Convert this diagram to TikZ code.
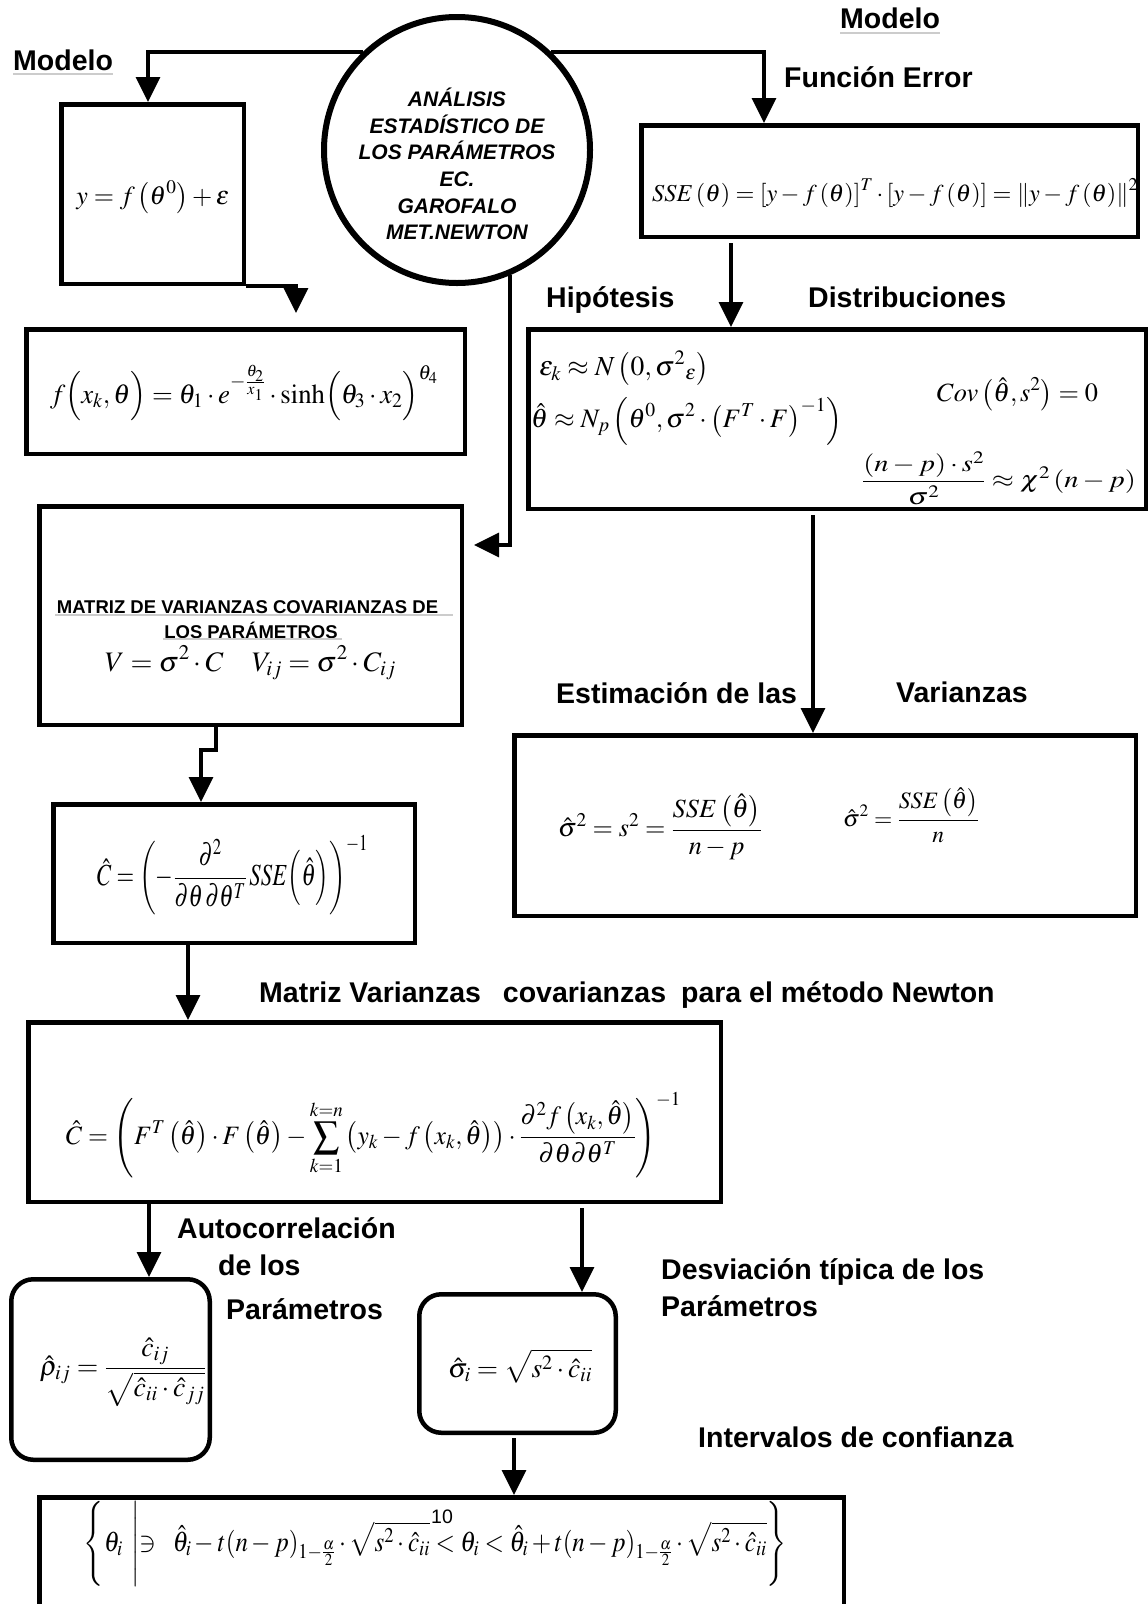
\documentclass[tikz,border=0pt]{standalone}
\usepackage{mathptmx}
\usepackage[no-math]{fontspec}
\setmainfont{Liberation Serif}
\setsansfont{Liberation Sans}
\usepackage{graphicx}
\usetikzlibrary{arrows.meta,calc}
% formula scaled to a given width (px = pt)
\newcommand{\fw}[2]{\resizebox{#1pt}{!}{$\displaystyle #2$}}
% formula scaled to a given width and total height (px = pt)
\newcommand{\fwh}[3]{\resizebox*{#1pt}{#2pt}{$\displaystyle #3$}}
\tikzset{
  box/.style={draw, line width=4.5pt, rectangle, inner sep=0pt},
  rbox/.style={box, rounded corners=22pt},
  circbox/.style={draw, circle, line width=6pt, inner sep=0pt, minimum size=266pt},
  conn/.style={line width=3.5pt, -{Triangle[length=25pt,width=24pt]}},
  lab/.style={font=\sffamily\bfseries\fontsize{28.5}{33}\selectfont, inner sep=0pt, anchor=base west},
  hdr/.style={font=\sffamily\bfseries\fontsize{18.5}{22}\selectfont, inner sep=0pt},
  ulg/.style={draw=gray!40, line width=1.5pt},
  fml/.style={inner sep=0pt, font=\fontsize{24}{28}\selectfont},
}
\begin{document}
\begin{tikzpicture}[x=1pt,y=-1pt]
\fill[white] (0,0) rectangle (1148,1604);
\useasboundingbox (0,0) rectangle (1148,1604);

% helper coordinates (connector x positions / y levels)
\coordinate (xL) at (148,0);
\coordinate (xR) at (764,0);
\coordinate (xF) at (296,0);
\coordinate (yM) at (0,545);
\coordinate (xS) at (731,0);
\coordinate (xH) at (813,0);
\coordinate (xM1) at (216,0);
\coordinate (xM2) at (201,0);
\coordinate (xN) at (188,0);
\coordinate (xA) at (149,0);
\coordinate (xB) at (582,0);
\coordinate (xI) at (514,0);

% central circle
\node[circbox] (ana) at (457,150) {};
\node[font=\sffamily\bfseries\itshape\fontsize{21}{26.6}\selectfont, align=center, inner sep=0pt] (anatxt) at (457,164)
  {ANÁLISIS\\ESTADÍSTICO DE\\LOS PARÁMETROS\\EC.\\GAROFALO\\MET.NEWTON};

% boxes
\node[box, minimum width=182.5pt, minimum height=179.5pt] (box1) at (152.5,194) {};
\node[box, minimum width=496.5pt, minimum height=111.5pt] (sse) at (889.5,181) {};
\node[box, minimum width=438.5pt, minimum height=124.5pt] (fbox) at (245.5,391.5) {};
\node[box, minimum width=617.5pt, minimum height=179.5pt] (hip) at (837,419) {};
\node[box, minimum width=422.5pt, minimum height=218.5pt] (matriz) at (250.5,615.5) {};
\node[box, minimum width=621.5pt, minimum height=180.5pt] (est) at (825,825.5) {};
\node[box, minimum width=361.5pt, minimum height=138.5pt] (chat) at (234,873.5) {};
\node[box, minimum width=692.5pt, minimum height=179.5pt] (newton) at (374.5,1112) {};
\node[rbox, minimum width=198.5pt, minimum height=180.5pt] (rho) at (110.5,1369.5) {};
\node[rbox, minimum width=196.5pt, minimum height=138.5pt] (sig) at (517.5,1363.5) {};
\node[box, minimum width=804.5pt, minimum height=125.5pt] (intv) at (441.5,1560) {};

% labels
\node[lab] (lModL) at (13,70) {Modelo};
\draw[ulg] ($(lModL.base west)+(0,4)$) -- ($(lModL.base east)+(0,4)$);
\node[lab] (lModR) at (840,28) {Modelo};
\draw[ulg] ($(lModR.base west)+(0,5)$) -- ($(lModR.base east)+(0,5)$);
\node[lab] (lFun) at (784,87) {Función Error};
\node[lab] (lHip) at (546,307) {Hipótesis};
\node[lab] (lDis) at (808,307) {Distribuciones};
\node[lab] (lEst) at (556,703) {Estimación de las};
\node[lab] (lVar) at (896,702) {Varianzas};
\node[lab] (lMat) at (259,1002) {Matriz Varianzas\hspace{22pt}covarianzas\hspace{15pt}para el método Newton};
\node[lab] (lAut1) at (177,1238) {Autocorrelación};
\node[lab] (lAut2) at (218,1275) {de los};
\node[lab] (lAut3) at (226,1319) {Parámetros};
\node[lab] (lDes1) at (661,1279) {Desviación típica de los};
\node[lab] (lDes2) at (661,1316) {Parámetros};
\node[lab] (lInt) at (698,1447) {Intervalos de confianza};

% matriz header
\node[hdr] (hd1) at (247.5,607) {MATRIZ DE VARIANZAS COVARIANZAS DE};
\node[hdr] (hd2) at (251,630) {LOS PARÁMETROS};
\draw[ulg] (55,615) -- (453,615);
\draw[ulg] (163,639) -- (342,639);

% formulas
\node[fml] (f1) at (153,197) {\fw{153}{y=f\left(\theta^{0}\right)+\varepsilon}};
\node[fml] (f2) at (895,193) {\fw{486}{SSE\left(\theta\right)=\left[y-f\left(\theta\right)\right]^{T}\cdot\left[y-f\left(\theta\right)\right]=\left\|y-f\left(\theta\right)\right\|^{2}}};
\node[fml] (f3) at (244,393) {\fwh{388}{56}{f\Bigl(x_{k},\theta\Bigr)=\theta_{1}\cdot e^{-\frac{\theta_{2}}{x_{1}}}\cdot\sinh\Bigl(\theta_{3}\cdot x_{2}\Bigr)^{\theta_{4}}}};
\node[fml] (f4) at (250.5,663) {\fw{291}{V=\sigma^{2}\cdot C\quad V_{ij}=\sigma^{2}\cdot C_{ij}}};
\node[fml] (f5) at (232.5,875) {\fwh{271}{80}{\hat C=\biggl(-\frac{\partial^{2}}{\partial\theta\,\partial\theta^{T}}\,SSE\Bigl(\hat\theta\Bigr)\biggr)^{-1}}};
\node[fml, anchor=west] (f6) at (539,368) {\fw{170}{\varepsilon_{k}\approx N\left(0,\sigma^{2}{}_{\varepsilon}\right)}};
\node[fml, anchor=west] (f7) at (531,421) {\fw{311}{\hat\theta\approx N_{p}\left(\theta^{0},\sigma^{2}\cdot\left(F^{T}\cdot F\right)^{-1}\right)}};
\node[fml] (f8) at (1017.5,394) {\fw{161}{Cov\left(\hat\theta,s^{2}\right)=0}};
\node[fml] (f9) at (999,478) {\fwh{274}{53}{\frac{\left(n-p\right)\cdot s^{2}}{\sigma^{2}}\approx\chi^{2}\left(n-p\right)}};
\node[fml] (f10) at (660,827) {\fw{204}{\hat\sigma^{2}=s^{2}=\frac{SSE\left(\hat\theta\right)}{n-p}}};
\node[fml] (f11) at (911,815) {\fw{136}{\hat\sigma^{2}=\frac{SSE\left(\hat\theta\right)}{n}}};
\node[fml] (f12) at (373.5,1135) {\fwh{615}{85}{\hat C=\left(F^{T}\left(\hat\theta\right)\cdot F\left(\hat\theta\right)-\sum_{k=1}^{k=n}\left(y_{k}-f\left(x_{k},\hat\theta\right)\right)\cdot\frac{\partial^{2}f\left(x_{k},\hat\theta\right)}{\partial\theta\partial\theta^{T}}\right)^{-1}}};
\node[fml] (f13) at (123,1372) {\fw{166}{\hat\rho_{ij}=\frac{\hat c_{ij}}{\sqrt{\hat c_{ii}\cdot\hat c_{jj}}}}};
\node[fml] (f14) at (520,1366) {\fw{144}{\hat\sigma_{i}=\sqrt{s^{2}\cdot\hat c_{ii}}}};
\node[fml] (f15) at (435.5,1544) {\fwh{703}{85}{\Biggl\{\theta_{i}\,\Biggm|\ni\;\;\hat\theta_{i}-t(n-p)_{1-\frac{\alpha}{2}}\cdot\sqrt{s^{2}\cdot\hat c_{ii}}<\theta_{i}<\hat\theta_{i}+t(n-p)_{1-\frac{\alpha}{2}}\cdot\sqrt{s^{2}\cdot\hat c_{ii}}\Biggr\}}};
\node[font=\sffamily\fontsize{19.5}{22}\selectfont, inner sep=0pt] (pg) at (442,1517) {10};

% connectors
\draw[conn] (ana.134) -| (box1.north -| xL);
\draw[conn] (ana.46) -| (sse.north -| xR);
\draw[conn] (box1.south east) -| ($(fbox.north -| xF)+(0,-14)$);
\draw[conn] (ana.-67) |- ($(matriz.east |- yM)+(10,0)$);
\draw[conn] ($(sse.south -| xS)+(0,4)$) -- (hip.north -| xS);
\draw[conn] ($(hip.south -| xH)+(0,4)$) -- (est.north -| xH);
\draw[conn] (matriz.south -| xM1) -- ($(matriz.south -| xM1)+(0,23)$) -| (chat.north -| xM2);
\draw[conn] (chat.south -| xN) -- (newton.north -| xN);
\draw[conn] (newton.south -| xA) -- (rho.north -| xA);
\draw[conn] ($(newton.south -| xB)+(0,4)$) -- (sig.north -| xB);
\draw[conn] ($(sig.south -| xI)+(0,3)$) -- (intv.north -| xI);
\end{tikzpicture}
\end{document}
